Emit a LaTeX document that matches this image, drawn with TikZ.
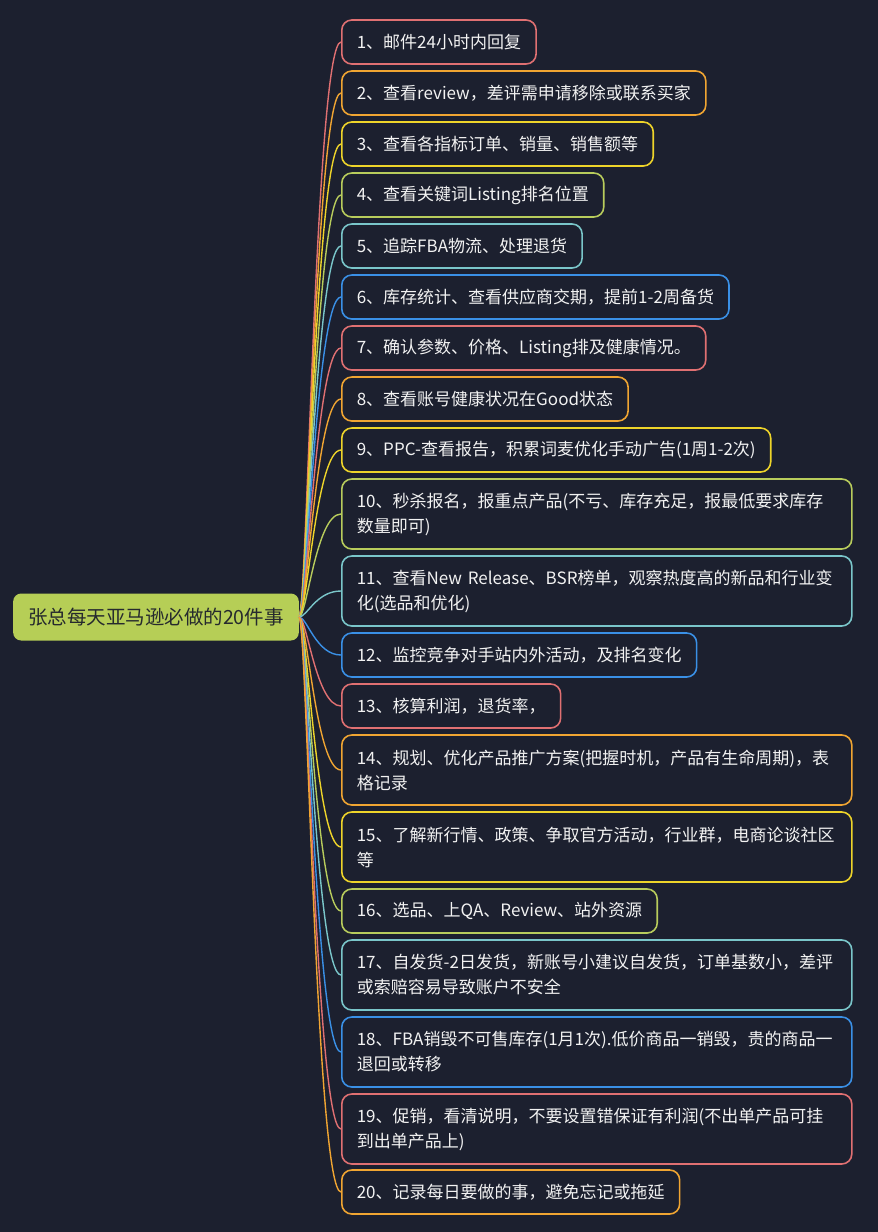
\documentclass[tikz,border=0pt]{standalone}
\usepackage{fontspec}
\usepackage{xcolor}
\newfontfamily\cjk{Noto Sans CJK SC}
\definecolor{bgnavy}{RGB}{28,32,47}
\definecolor{rootgreen}{RGB}{182,206,86}
\definecolor{rootink}{RGB}{38,42,46}
\definecolor{leafink}{RGB}{242,242,242}
\definecolor{cred}{RGB}{224,112,114}
\definecolor{corange}{RGB}{240,165,50}
\definecolor{cyellow}{RGB}{238,212,42}
\definecolor{cgreen}{RGB}{184,204,92}
\definecolor{cteal}{RGB}{122,198,202}
\definecolor{cblue}{RGB}{58,144,230}

\begin{document}
\begin{tikzpicture}[x=1pt,y=-1pt,
  root/.style={fill=rootgreen, text=rootink, rounded corners=8pt, inner xsep=15pt, inner ysep=0pt,
    minimum height=47pt, font=\cjk\fontsize{19.5}{24}\selectfont},
  leaf/.style={draw, line width=1.6pt, rounded corners=10pt, text=leafink, anchor=west,
    inner xsep=15pt, inner ysep=0pt, minimum height=44pt, font=\cjk\fontsize{17}{25}\selectfont},
  wide/.style={leaf, text width=480pt, align=left, minimum height=70pt},
  link/.style={line width=1.4pt}]
\fill[bgnavy] (0,0) rectangle (878,1232);
\useasboundingbox (0,0) rectangle (878,1232);
% root
\node[root] (root) at (156,617) {张总每天亚马逊必做的20件事};
% tasks
\node[leaf, draw=cred] (n1) at (341,42) {1、邮件24小时内回复};
\node[leaf, draw=corange] (n2) at (341,93) {2、查看review，差评需申请移除或联系买家};
\node[leaf, draw=cyellow] (n3) at (341,144) {3、查看各指标订单、销量、销售额等};
\node[leaf, draw=cgreen] (n4) at (341,195) {4、查看关键词Listing排名位置};
\node[leaf, draw=cteal] (n5) at (341,246) {5、追踪FBA物流、处理退货};
\node[leaf, draw=cblue] (n6) at (341,297) {6、库存统计、查看供应商交期，提前1-2周备货};
\node[leaf, draw=cred] (n7) at (341,348) {7、确认参数、价格、Listing排及健康情况。};
\node[leaf, draw=corange] (n8) at (341,399) {8、查看账号健康状况在Good状态};
\node[leaf, draw=cyellow] (n9) at (341,450) {9、PPC-查看报告，积累词麦优化手动广告(1周1-2次)};
\node[wide, draw=cgreen] (n10) at (341,514) {10、秒杀报名，报重点产品(不亏、库存充足，报最低要求库存\\数量即可)};
\node[wide, draw=cteal] (n11) at (341,591) {11、查看New Release、BSR榜单，观察热度高的新品和行业变\\化(选品和优化)};
\node[leaf, draw=cblue] (n12) at (341,655) {12、监控竞争对手站内外活动，及排名变化};
\node[leaf, draw=cred] (n13) at (341,706) {13、核算利润，退货率，};
\node[wide, draw=corange] (n14) at (341,770) {14、规划、优化产品推广方案(把握时机，产品有生命周期)，表\\格记录};
\node[wide, draw=cyellow] (n15) at (341,847) {15、了解新行情、政策、争取官方活动，行业群，电商论谈社区\\等};
\node[leaf, draw=cgreen] (n16) at (341,911) {16、选品、上QA、Review、站外资源};
\node[wide, draw=cteal] (n17) at (341,975) {17、自发货-2日发货，新账号小建议自发货，订单基数小，差评\\或索赔容易导致账户不安全};
\node[wide, draw=cblue] (n18) at (341,1052) {18、FBA销毁不可售库存(1月1次).低价商品一销毁，贵的商品一\\退回或转移};
\node[wide, draw=cred] (n19) at (341,1129) {19、促销，看清说明，不要设置错保证有利润(不出单产品可挂\\到出单产品上)};
\node[leaf, draw=corange] (n20) at (341,1192) {20、记录每日要做的事，避免忘记或拖延};
% links
\draw[link, cred] (root.east) .. controls +(8,0) and +(-25,0) .. (n1.west);
\draw[link, corange] (root.east) .. controls +(8,0) and +(-25,0) .. (n2.west);
\draw[link, cyellow] (root.east) .. controls +(8,0) and +(-25,0) .. (n3.west);
\draw[link, cgreen] (root.east) .. controls +(8,0) and +(-25,0) .. (n4.west);
\draw[link, cteal] (root.east) .. controls +(8,0) and +(-25,0) .. (n5.west);
\draw[link, cblue] (root.east) .. controls +(8,0) and +(-25,0) .. (n6.west);
\draw[link, cred] (root.east) .. controls +(8,0) and +(-25,0) .. (n7.west);
\draw[link, corange] (root.east) .. controls +(8,0) and +(-25,0) .. (n8.west);
\draw[link, cyellow] (root.east) .. controls +(8,0) and +(-25,0) .. (n9.west);
\draw[link, cgreen] (root.east) .. controls +(8,0) and +(-25,0) .. (n10.west);
\draw[link, cteal] (root.east) .. controls +(8,0) and +(-25,0) .. (n11.west);
\draw[link, cblue] (root.east) .. controls +(8,0) and +(-25,0) .. (n12.west);
\draw[link, cred] (root.east) .. controls +(8,0) and +(-25,0) .. (n13.west);
\draw[link, corange] (root.east) .. controls +(8,0) and +(-25,0) .. (n14.west);
\draw[link, cyellow] (root.east) .. controls +(8,0) and +(-25,0) .. (n15.west);
\draw[link, cgreen] (root.east) .. controls +(8,0) and +(-25,0) .. (n16.west);
\draw[link, cteal] (root.east) .. controls +(8,0) and +(-25,0) .. (n17.west);
\draw[link, cblue] (root.east) .. controls +(8,0) and +(-25,0) .. (n18.west);
\draw[link, cred] (root.east) .. controls +(8,0) and +(-25,0) .. (n19.west);
\draw[link, corange] (root.east) .. controls +(8,0) and +(-25,0) .. (n20.west);
\end{tikzpicture}
\end{document}
